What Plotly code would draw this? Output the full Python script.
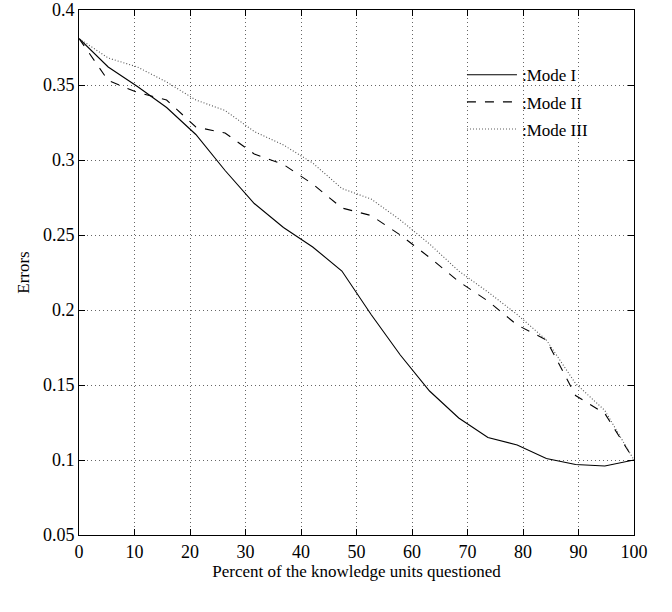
import plotly.graph_objects as go

x_pct = [0, 5.26, 10.53, 15.79, 21.05, 26.32, 31.58, 36.84, 42.11, 47.37,
         52.63, 57.89, 63.16, 68.42, 73.68, 78.95, 84.21, 89.47, 94.74, 100]

mode1 = [0.381, 0.362, 0.349, 0.335, 0.317, 0.293, 0.271, 0.255, 0.242, 0.226,
         0.197, 0.170, 0.146, 0.128, 0.115, 0.110, 0.101, 0.097, 0.096, 0.100]
mode2 = [0.381, 0.353, 0.345, 0.340, 0.322, 0.318, 0.304, 0.297, 0.284, 0.268,
         0.263, 0.250, 0.235, 0.219, 0.206, 0.190, 0.180, 0.143, 0.131, 0.100]
mode3 = [0.381, 0.368, 0.362, 0.352, 0.340, 0.333, 0.319, 0.310, 0.298, 0.281,
         0.274, 0.260, 0.244, 0.226, 0.212, 0.197, 0.180, 0.151, 0.133, 0.100]

names = [":Mode I", ":Mode II", ":Mode III"]
dashes = ["solid", "dash", "1px,2px"]
colors = ["black", "black", "#555"]
series = [mode1, mode2, mode3]

xticks = [0, 10, 20, 30, 40, 50, 60, 70, 80, 90, 100]
yticks = [0.05, 0.1, 0.15, 0.2, 0.25, 0.3, 0.35, 0.4]
ytext = ["0.05", "0.1", "0.15", "0.2", "0.25", "0.3", "0.35", "0.4"]

FONT = "Liberation Serif"

fig = go.Figure()
for i, (nm, ds, col, ys) in enumerate(zip(names, dashes, colors, series)):
    fig.add_trace(go.Scatter(
        x=x_pct, y=ys, mode="lines", name=nm, legendgroup=str(i),
        line=dict(color=col, width=1.1, dash=ds),
    ))

axis_common = dict(
    showline=True, linecolor="black", linewidth=1, mirror="ticks",
    ticks="inside", ticklen=6, tickcolor="black", tickwidth=1,
    showgrid=True, gridcolor="#666", griddash="1px,3px", gridwidth=1,
    zeroline=False, automargin=False,
    tickfont=dict(family=FONT, size=18, color="black"),
)

fig.update_layout(
    width=672, height=612,
    margin=dict(l=79, r=38, t=10, b=77),
    paper_bgcolor="white", plot_bgcolor="white",
    font=dict(family=FONT, color="black"),
    showlegend=True,
    legend=dict(
        x=0.69, y=0.91, xanchor="left", yanchor="top",
        bgcolor="rgba(0,0,0,0)", borderwidth=0,
        font=dict(family=FONT, size=17, color="black"),
        tracegroupgap=2, itemwidth=50,
    ),
    xaxis=dict(
        range=[0, 100], tickvals=xticks, ticktext=[str(v) for v in xticks],
        title=dict(text="Percent of the knowledge units questioned",
                   font=dict(family=FONT, size=17, color="black"), standoff=4),
        **axis_common,
    ),
    yaxis=dict(
        range=[0.05, 0.4], tickvals=yticks, ticktext=ytext,
        title=dict(text="Errors", font=dict(family=FONT, size=17, color="black"),
                   standoff=8),
        **axis_common,
    ),
)

fig.write_html("out.html")
